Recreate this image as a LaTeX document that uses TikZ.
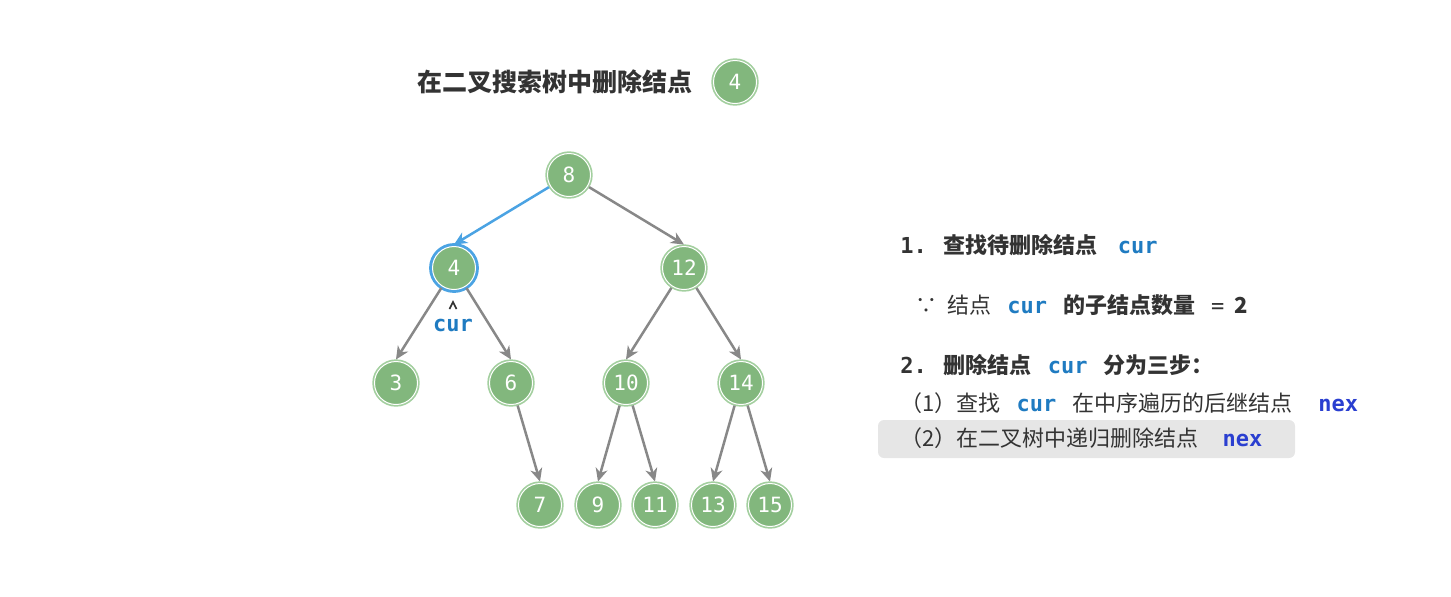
\documentclass[tikz,border=0pt]{standalone}
\usepackage{fontspec}
\setmainfont{Noto Sans CJK SC}
\newfontfamily\codefont{DejaVu Sans Mono}
\usetikzlibrary{arrows.meta}
\definecolor{nodegreen}{HTML}{82B77D}
\definecolor{ringgreen}{HTML}{A3CF9F}
\definecolor{lineblue}{HTML}{4BA3E3}
\definecolor{edgegray}{HTML}{888888}
\definecolor{curblue}{HTML}{1F7BC1}
\definecolor{nexblue}{HTML}{2A3FD0}
\definecolor{txtgray}{HTML}{333333}
\definecolor{boxgray}{HTML}{E6E6E6}
\begin{document}
\begin{tikzpicture}[x=0.5pt,y=-0.5pt,
  tnode/.style={circle, minimum size=21.5pt, inner sep=0pt, outer sep=1pt, fill=nodegreen, draw=white,
    line width=0.5pt, preaction={draw=ringgreen, line width=2.2pt}, text=white,
    font=\codefont\fontsize{10.5}{11}\selectfont},
  curnode/.style={tnode, preaction={draw=lineblue, line width=3.4pt}},
  edge/.style={draw=edgegray, line width=1.25pt, -{Stealth[length=6.5pt,width=6pt,inset=2pt]}},
  blueedge/.style={edge, draw=lineblue},
  txt/.style={anchor=west, inner sep=0pt, text=txtgray, font=\fontsize{11}{13}\selectfont},
  titletxt/.style={text=txtgray, font=\bfseries\fontsize{12.5}{14}\selectfont},
  codetxt/.style={text=curblue, font=\codefont\bfseries\fontsize{11}{13}\selectfont}
]
\useasboundingbox (0,0) rectangle (1451,596);

% title
\node[titletxt] (title) at (555,82) {在二叉搜索树中删除结点};
\node[tnode] (t4) at (735,82) {4};

% tree nodes
\node[tnode] (n8) at (569,175) {8};
\node[curnode] (n4) at (454,268) {4};
\node[tnode] (n12) at (684,268) {12};
\node[tnode] (n3) at (396,383) {3};
\node[tnode] (n6) at (511,383) {6};
\node[tnode] (n10) at (626,383) {10};
\node[tnode] (n14) at (741,383) {14};
\node[tnode] (n7) at (540,505) {7};
\node[tnode] (n9) at (598,505) {9};
\node[tnode] (n11) at (655,505) {11};
\node[tnode] (n13) at (713,505) {13};
\node[tnode] (n15) at (770,505) {15};

% edges
\draw[blueedge] (n8) -- (n4.north);
\draw[edge] (n8) -- (n12.north);
\draw[edge] (n4) -- (n3.north);
\draw[edge] (n4) -- (n6.north);
\draw[edge] (n12) -- (n10.north);
\draw[edge] (n12) -- (n14.north);
\draw[edge] (n6) -- (n7.north);
\draw[edge] (n10) -- (n9.north);
\draw[edge] (n10) -- (n11.north);
\draw[edge] (n14) -- (n13.north);
\draw[edge] (n14) -- (n15.north);

% cur label with small pointer
\node[codetxt, inner sep=0pt] (curlbl) at (453,325) {cur};
\coordinate (caret) at (453,302);
\draw[txtgray, line width=0.8pt, line join=miter] ([shift={(-3.5,7)}]caret) -- (caret) -- ([shift={(3.5,7)}]caret);

% right side text
\fill[boxgray, rounded corners=3pt] (878,420) rectangle (1295,458);

\node[txt] (l1) at (900,245) {{\codefont\bfseries 1.}\hspace{8.5pt}\textbf{查找待删除结点}\hspace{10pt}{\codefont\bfseries\color{curblue}cur}};
\node[txt] (l2) at (915,305) {∵\hspace{5pt}结点\hspace{8pt}{\codefont\bfseries\color{curblue}cur}\hspace{8pt}\textbf{的子结点数量}\hspace{8pt}{\codefont =}\hspace{5pt}\textbf{2}};
\node[txt] (l3) at (900,365) {{\codefont\bfseries 2.}\hspace{8.5pt}\textbf{删除结点}\hspace{8pt}{\codefont\bfseries\color{curblue}cur}\hspace{8pt}\textbf{分为三步：}};
\node[txt] (l4) at (900,403) {（1）查找\hspace{8pt}{\codefont\bfseries\color{curblue}cur}\hspace{8pt}在中序遍历的后继结点\hspace{13pt}{\codefont\bfseries\color{nexblue}nex}};
\node[txt] (l5) at (900,438) {（2）在二叉树中递归删除结点\hspace{12pt}{\codefont\bfseries\color{nexblue}nex}};
\end{tikzpicture}
\end{document}
